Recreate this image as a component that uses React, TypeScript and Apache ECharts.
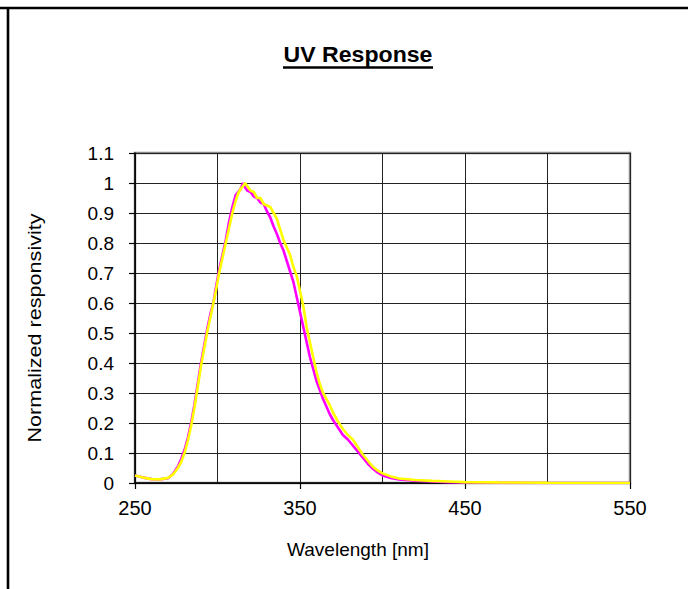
import React, { useEffect, useRef } from "react";
import * as echarts from "echarts";

const FONT = "'Liberation Sans', Arial, Helvetica, sans-serif";

const titleText = "UV Response";
const xAxisTitle = "Wavelength [nm]";
const yAxisTitle = "Normalized responsivity";

const wavelengths = [
  250, 255, 260, 265, 270, 273, 276, 278, 280, 282, 284, 286, 288, 290, 292, 294, 296, 297.5, 299,
  301, 303, 305, 307, 309, 311, 312.5, 314, 315.5, 316.7, 318, 320, 322, 324, 326, 328, 330, 332,
  334, 336, 338, 340, 342, 344, 346, 348, 350, 352, 354, 356, 358, 360, 362, 364, 366, 368, 370,
  373, 376, 379, 382, 385, 388, 391, 394, 397, 400, 405, 410, 420, 430, 440, 450, 470, 500, 550,
];

const magenta = [
  0.025, 0.018, 0.013, 0.012, 0.016, 0.03, 0.055, 0.08, 0.11, 0.15, 0.2, 0.26, 0.33, 0.4, 0.46, 0.52,
  0.57, 0.6, 0.65, 0.71, 0.76, 0.81, 0.87, 0.92, 0.96, 0.97, 0.98, 1.0, 0.985, 0.975, 0.97, 0.955,
  0.95, 0.935, 0.93, 0.905, 0.885, 0.855, 0.83, 0.8, 0.775, 0.74, 0.705, 0.67, 0.62, 0.57, 0.52,
  0.47, 0.42, 0.38, 0.34, 0.31, 0.28, 0.255, 0.23, 0.21, 0.185, 0.16, 0.145, 0.125, 0.105, 0.085,
  0.065, 0.048, 0.035, 0.025, 0.017, 0.012, 0.008, 0.005, 0.003, 0.002, 0.001, 0.0, 0.0,
];

const yellow = [
  0.025, 0.018, 0.013, 0.012, 0.017, 0.028, 0.05, 0.07, 0.1, 0.14, 0.19, 0.25, 0.32, 0.39, 0.45, 0.51,
  0.56, 0.6, 0.64, 0.7, 0.75, 0.8, 0.85, 0.9, 0.94, 0.965, 0.98, 0.99, 1.0, 0.99, 0.975, 0.97,
  0.95, 0.95, 0.93, 0.925, 0.92, 0.9, 0.88, 0.845, 0.81, 0.785, 0.76, 0.72, 0.69, 0.64, 0.59,
  0.52, 0.47, 0.42, 0.37, 0.33, 0.3, 0.28, 0.26, 0.235, 0.205, 0.18, 0.16, 0.145, 0.12, 0.095,
  0.075, 0.055, 0.042, 0.032, 0.022, 0.015, 0.01, 0.007, 0.005, 0.003, 0.002, 0.001, 0.0,
];

export default function App() {
  const ref = useRef<HTMLDivElement>(null);

  useEffect(() => {
    if (!ref.current) return;
    const chart = echarts.init(ref.current, null, { renderer: "svg" });
    const gridColor = "#222";
    chart.setOption({
      animation: false,
      backgroundColor: "#fff",
      grid: {
        left: 135,
        right: 58,
        top: 153,
        bottom: 106,
        show: true,
        borderColor: "#888",
        borderWidth: 2.5,
        backgroundColor: "transparent",
        containLabel: false,
        outerBoundsMode: "none",
      },
      xAxis: {
        type: "value",
        min: 250,
        max: 550,
        interval: 100,
        axisLine: { show: true, onZero: false, lineStyle: { color: "#000", width: 1.5 } },
        axisTick: { show: true, inside: false, length: 6, lineStyle: { color: "#000", width: 1.2 } },
        axisLabel: { fontSize: 20, color: "#000", fontFamily: FONT, margin: 15 },
        splitLine: { show: true, lineStyle: { color: gridColor, width: 1 } },
        minorTick: { show: false, splitNumber: 2 },
        minorSplitLine: { show: true, lineStyle: { color: gridColor, width: 1 } },
      },
      yAxis: {
        type: "value",
        min: 0,
        max: 1.1,
        interval: 0.1,
        axisLine: { show: true, lineStyle: { color: "#000", width: 1.5 } },
        axisTick: { show: true, inside: false, length: 6, lineStyle: { color: "#000", width: 1.2 } },
        axisLabel: {
          fontSize: 19,
          color: "#000",
          fontFamily: FONT,
          margin: 21,
          formatter: (v: number) => String(Math.round(v * 10) / 10),
        },
        splitLine: { show: true, lineStyle: { color: gridColor, width: 1 } },
      },
      series: [
        {
          name: "magenta",
          type: "line",
          data: wavelengths.map((w, i) => [w, magenta[i]]),
          showSymbol: false,
          symbol: "none",
          lineStyle: { color: "#ff00ff", width: 2.6 },
          z: 3,
        },
        {
          name: "yellow",
          type: "line",
          data: wavelengths.map((w, i) => [w, yellow[i]]),
          showSymbol: false,
          symbol: "none",
          lineStyle: { color: "#ffff00", width: 2.6 },
          z: 4,
        },
      ],
      graphic: [
        {
          type: "line",
          shape: { x1: 0, y1: 8, x2: 688, y2: 8 },
          style: { stroke: "#000", lineWidth: 2.6 },
          z: 10,
        },
        {
          type: "line",
          shape: { x1: 8, y1: 8, x2: 8, y2: 589 },
          style: { stroke: "#000", lineWidth: 2.6 },
          z: 10,
        },
        {
          type: "text",
          x: 358,
          y: 55,
          scaleX: 1.05,
          style: {
            text: titleText,
            fill: "#000",
            font: `bold 22px ${FONT}`,
            textAlign: "center",
            textVerticalAlign: "middle",
            verticalAlign: "middle",
          },
          z: 10,
        },
        {
          type: "line",
          shape: { x1: 283, y1: 67.5, x2: 433, y2: 67.5 },
          style: { stroke: "#000", lineWidth: 2.5 },
          z: 10,
        },
        {
          type: "text",
          x: 358,
          y: 549,
          style: {
            text: xAxisTitle,
            fill: "#000",
            font: `19px ${FONT}`,
            textAlign: "center",
            textVerticalAlign: "middle",
            verticalAlign: "middle",
          },
          z: 10,
        },
        {
          type: "text",
          x: 35,
          y: 328,
          rotation: Math.PI / 2,
          scaleX: 1.2,
          style: {
            text: yAxisTitle,
            fill: "#000",
            font: `18px ${FONT}`,
            textAlign: "center",
            textVerticalAlign: "middle",
            verticalAlign: "middle",
          },
          z: 10,
        },
      ],
    });
    return () => chart.dispose();
  }, []);

  return (
    <div
      ref={ref}
      style={{ position: "fixed", left: 0, top: 0, width: 688, height: 589, background: "#fff" }}
    />
  );
}
